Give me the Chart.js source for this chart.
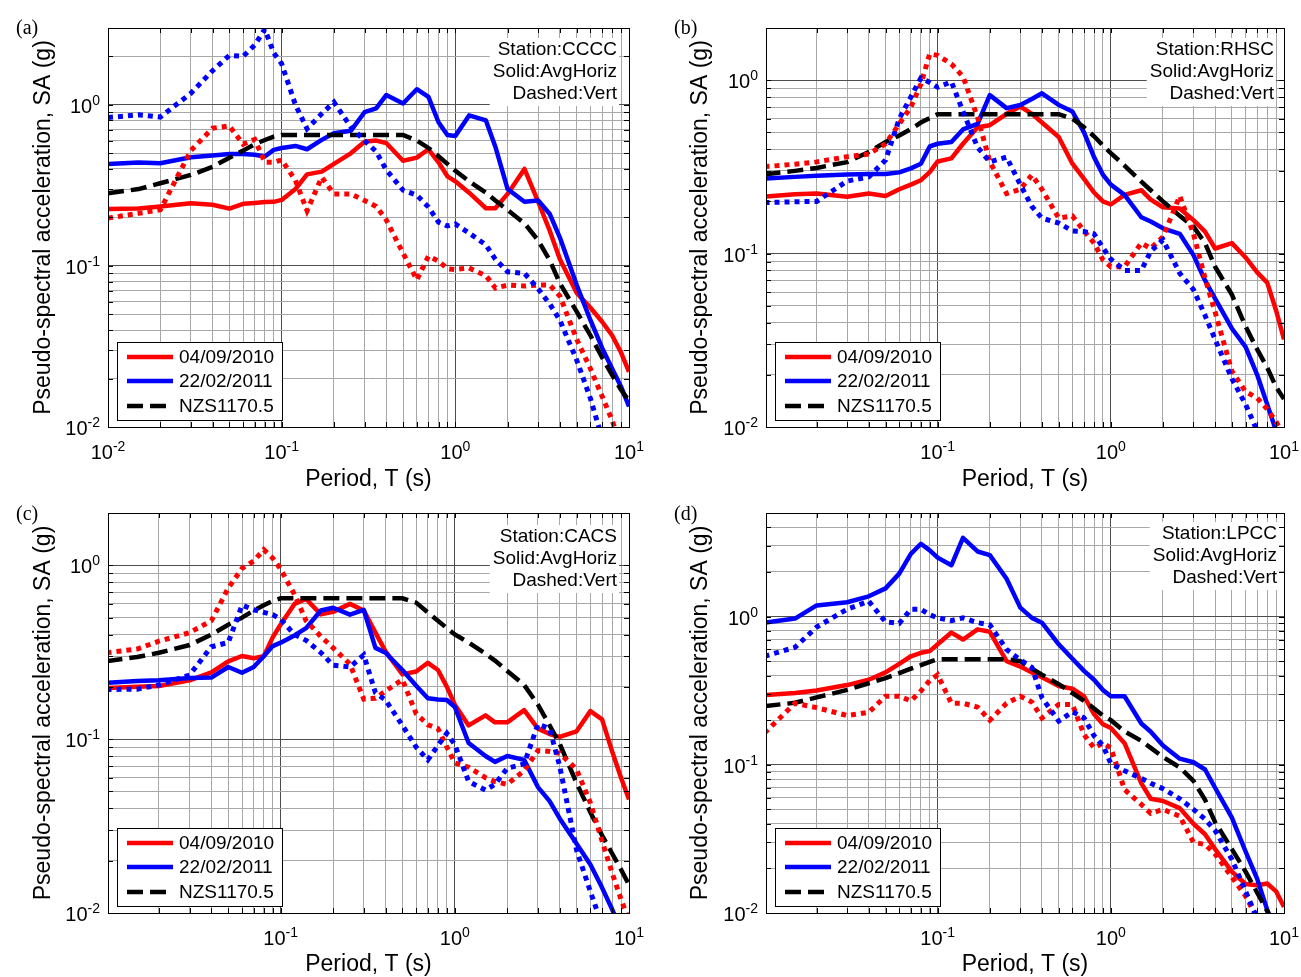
<!DOCTYPE html>
<html>
<head>
<meta charset="utf-8">
<title>Pseudo-spectral acceleration</title>
<script src="https://cdn.jsdelivr.net/npm/chart.js@4.4.1/dist/chart.umd.min.js"></script>
<style>
  body { margin: 0; background: #fff; width: 1301px; height: 977px; position: relative; overflow: hidden; }
  canvas { position: absolute; }
</style>
</head>
<body>
<canvas id="c0"></canvas>
<canvas id="c1"></canvas>
<canvas id="c2"></canvas>
<canvas id="c3"></canvas>
<script>
// periods (s) shared by every record
const periods = [0.01, 0.015, 0.02, 0.03, 0.04, 0.05, 0.06, 0.07, 0.08, 0.09,
                 0.1, 0.12, 0.14, 0.17, 0.2, 0.25, 0.3, 0.35, 0.4, 0.5,
                 0.6, 0.7, 0.8, 0.9, 1, 1.2, 1.5, 1.7, 2, 2.5,
                 3, 3.5, 4, 5, 6, 7, 8, 9, 10];

// (a) CCCC
const aRedH  = [0.226, 0.227, 0.234, 0.245, 0.24, 0.227, 0.243, 0.246, 0.249, 0.25, 0.257, 0.3, 0.37, 0.385, 0.43, 0.5, 0.59, 0.6, 0.58, 0.45, 0.47, 0.53, 0.44, 0.36, 0.335, 0.285, 0.228, 0.228, 0.28, 0.4, 0.25, 0.165, 0.11, 0.068, 0.055, 0.045, 0.037, 0.029, 0.022];
const aBlueH = [0.43, 0.438, 0.434, 0.473, 0.485, 0.496, 0.496, 0.49, 0.478, 0.525, 0.54, 0.556, 0.53, 0.606, 0.667, 0.69, 0.9, 0.95, 1.15, 1.02, 1.25, 1.12, 0.78, 0.65, 0.64, 0.86, 0.8, 0.55, 0.3, 0.25, 0.255, 0.21, 0.15, 0.076, 0.046, 0.031, 0.023, 0.0178, 0.0134];
const aRedV  = [0.198, 0.212, 0.223, 0.52, 0.716, 0.74, 0.57, 0.61, 0.44, 0.44, 0.455, 0.34, 0.22, 0.355, 0.28, 0.28, 0.255, 0.234, 0.193, 0.12, 0.082, 0.115, 0.107, 0.096, 0.095, 0.097, 0.087, 0.073, 0.076, 0.075, 0.076, 0.076, 0.065, 0.035, 0.023, 0.0155, 0.011, 0.0075, 0.0055];
const aBlueV = [0.834, 0.867, 0.84, 1.18, 1.63, 2.03, 2.0, 2.35, 2.95, 2.1, 1.8, 1.0, 0.71, 0.88, 1.04, 0.73, 0.6, 0.513, 0.395, 0.295, 0.275, 0.232, 0.187, 0.177, 0.182, 0.16, 0.135, 0.11, 0.092, 0.09, 0.072, 0.058, 0.046, 0.026, 0.015, 0.0085, 0.006, 0.0045, 0.0035];
const aCode  = [0.283, 0.3, 0.326, 0.367, 0.412, 0.47, 0.52, 0.57, 0.605, 0.635, 0.651, 0.651, 0.651, 0.651, 0.651, 0.651, 0.651, 0.651, 0.651, 0.651, 0.6, 0.54, 0.48, 0.43, 0.39, 0.335, 0.285, 0.255, 0.222, 0.184, 0.144, 0.108, 0.078, 0.052, 0.037, 0.027, 0.021, 0.017, 0.0145];

// (b) RHSC
const bRedH  = [0.213, 0.22, 0.222, 0.213, 0.222, 0.215, 0.235, 0.25, 0.265, 0.295, 0.34, 0.354, 0.43, 0.535, 0.55, 0.64, 0.705, 0.64, 0.57, 0.47, 0.33, 0.27, 0.225, 0.2, 0.192, 0.218, 0.232, 0.205, 0.185, 0.182, 0.156, 0.134, 0.107, 0.115, 0.095, 0.078, 0.068, 0.047, 0.032];
const bBlueH = [0.271, 0.277, 0.281, 0.286, 0.288, 0.288, 0.294, 0.31, 0.33, 0.415, 0.43, 0.44, 0.52, 0.56, 0.82, 0.69, 0.72, 0.78, 0.84, 0.72, 0.66, 0.5, 0.36, 0.285, 0.25, 0.218, 0.162, 0.153, 0.14, 0.13, 0.098, 0.07, 0.055, 0.037, 0.029, 0.02, 0.0135, 0.0095, 0.007];
const bRedV  = [0.317, 0.328, 0.338, 0.362, 0.375, 0.43, 0.56, 0.7, 0.95, 1.42, 1.39, 1.24, 1.05, 0.61, 0.34, 0.222, 0.235, 0.284, 0.235, 0.16, 0.165, 0.135, 0.115, 0.092, 0.084, 0.084, 0.115, 0.107, 0.125, 0.215, 0.13, 0.072, 0.046, 0.021, 0.016, 0.0147, 0.0127, 0.0107, 0.009];
const bBlueV = [0.197, 0.199, 0.2, 0.262, 0.277, 0.346, 0.6, 0.8, 1.03, 0.97, 0.91, 0.98, 0.66, 0.41, 0.338, 0.36, 0.25, 0.187, 0.16, 0.15, 0.135, 0.134, 0.13, 0.108, 0.093, 0.08, 0.08, 0.103, 0.12, 0.077, 0.062, 0.044, 0.032, 0.019, 0.0135, 0.0095, 0.007, 0.0055, 0.0045];
const bCode  = [0.286, 0.3, 0.312, 0.337, 0.385, 0.44, 0.48, 0.522, 0.57, 0.605, 0.637, 0.637, 0.637, 0.637, 0.637, 0.637, 0.637, 0.637, 0.637, 0.637, 0.6, 0.535, 0.475, 0.42, 0.38, 0.322, 0.26, 0.232, 0.2, 0.165, 0.143, 0.115, 0.084, 0.058, 0.038, 0.028, 0.022, 0.017, 0.0145];

// (c) CACS
const cRedH  = [0.197, 0.2, 0.202, 0.218, 0.242, 0.28, 0.301, 0.292, 0.3, 0.385, 0.457, 0.6, 0.64, 0.522, 0.54, 0.6, 0.55, 0.41, 0.32, 0.236, 0.245, 0.275, 0.25, 0.2, 0.158, 0.12, 0.137, 0.125, 0.125, 0.147, 0.115, 0.107, 0.103, 0.111, 0.145, 0.13, 0.085, 0.06, 0.045];
const cBlueH = [0.211, 0.216, 0.218, 0.225, 0.226, 0.26, 0.241, 0.26, 0.3, 0.343, 0.359, 0.395, 0.435, 0.55, 0.57, 0.52, 0.555, 0.335, 0.314, 0.25, 0.203, 0.172, 0.169, 0.168, 0.153, 0.095, 0.08, 0.074, 0.08, 0.076, 0.053, 0.044, 0.035, 0.025, 0.019, 0.014, 0.0105, 0.008, 0.006];
const cRedV  = [0.314, 0.33, 0.366, 0.41, 0.48, 0.74, 0.96, 1.06, 1.23, 1.1, 0.95, 0.68, 0.48, 0.39, 0.335, 0.27, 0.17, 0.172, 0.189, 0.22, 0.14, 0.121, 0.115, 0.09, 0.073, 0.069, 0.06, 0.057, 0.055, 0.066, 0.086, 0.085, 0.083, 0.067, 0.043, 0.026, 0.017, 0.012, 0.009];
const cBlueV = [0.193, 0.194, 0.205, 0.234, 0.34, 0.36, 0.59, 0.555, 0.536, 0.52, 0.489, 0.4, 0.37, 0.315, 0.266, 0.26, 0.305, 0.185, 0.168, 0.12, 0.09, 0.076, 0.092, 0.108, 0.093, 0.057, 0.051, 0.055, 0.068, 0.072, 0.122, 0.115, 0.07, 0.023, 0.0133, 0.0085, 0.006, 0.0045, 0.0035];
const cCode  = [0.281, 0.297, 0.314, 0.348, 0.4, 0.455, 0.5, 0.55, 0.59, 0.625, 0.646, 0.646, 0.646, 0.646, 0.646, 0.646, 0.646, 0.646, 0.646, 0.646, 0.61, 0.535, 0.48, 0.435, 0.4, 0.36, 0.31, 0.283, 0.247, 0.205, 0.158, 0.12, 0.094, 0.056, 0.038, 0.028, 0.022, 0.0178, 0.0145];

// (d) LPCC
const dRedH  = [0.295, 0.305, 0.317, 0.345, 0.375, 0.42, 0.48, 0.54, 0.57, 0.585, 0.65, 0.78, 0.7, 0.82, 0.79, 0.5, 0.46, 0.42, 0.39, 0.34, 0.326, 0.29, 0.22, 0.188, 0.177, 0.14, 0.075, 0.059, 0.057, 0.051, 0.04, 0.034, 0.027, 0.019, 0.0157, 0.0154, 0.0158, 0.014, 0.011];
const dBlueH = [0.91, 0.97, 1.19, 1.25, 1.37, 1.55, 1.95, 2.65, 3.1, 2.8, 2.5, 2.22, 3.4, 2.75, 2.6, 1.8, 1.15, 0.98, 0.91, 0.65, 0.52, 0.43, 0.375, 0.32, 0.29, 0.29, 0.19, 0.167, 0.135, 0.11, 0.104, 0.093, 0.07, 0.044, 0.026, 0.017, 0.0105, 0.0075, 0.0055];
const dRedV  = [0.164, 0.26, 0.243, 0.215, 0.226, 0.29, 0.29, 0.27, 0.315, 0.37, 0.405, 0.26, 0.26, 0.245, 0.2, 0.26, 0.29, 0.265, 0.207, 0.255, 0.255, 0.16, 0.13, 0.14, 0.13, 0.068, 0.054, 0.047, 0.05, 0.045, 0.03, 0.029, 0.025, 0.0175, 0.013, 0.0092, 0.007, 0.0055, 0.0045];
const dBlueV = [0.54, 0.62, 0.85, 1.12, 1.27, 0.92, 0.9, 1.12, 1.12, 1.03, 0.98, 0.94, 0.98, 0.91, 0.88, 0.6, 0.51, 0.455, 0.284, 0.197, 0.228, 0.207, 0.157, 0.135, 0.102, 0.091, 0.081, 0.075, 0.069, 0.059, 0.05, 0.043, 0.036, 0.023, 0.014, 0.0092, 0.0065, 0.005, 0.004];
const dCode  = [0.249, 0.262, 0.285, 0.32, 0.355, 0.385, 0.415, 0.445, 0.47, 0.495, 0.516, 0.516, 0.516, 0.516, 0.516, 0.516, 0.5, 0.445, 0.405, 0.35, 0.305, 0.27, 0.24, 0.215, 0.2, 0.168, 0.145, 0.13, 0.113, 0.096, 0.078, 0.058, 0.041, 0.027, 0.019, 0.0137, 0.0103, 0.008, 0.0063];

// labels and axis ranges
const panelTags = ['(a)', '(b)', '(c)', '(d)'];
const stations = ['Station:CCCC', 'Station:RHSC', 'Station:CACS', 'Station:LPCC'];
const noteLines = ['Solid:AvgHoriz', 'Dashed:Vert'];
const legendLabels = ['04/09/2010', '22/02/2011', 'NZS1170.5'];
const xTitle = 'Period, T (s)';
const yTitle = 'Pseudo-spectral acceleration, SA (g)';
const xMins = [0.01, 0.0102, 0.0102, 0.0102];
const yMaxes = [3, 2, 2, 5];
const majorValues = [0.01, 0.1, 1, 10];
const majorBase = '10';
const majorExponents = ['-2', '-1', '0', '1'];

const records = [
    [aRedH, aBlueH, aRedV, aBlueV, aCode],
    [bRedH, bBlueH, bRedV, bBlueV, bCode],
    [cRedH, cBlueH, cRedV, cBlueV, cCode],
    [dRedH, dBlueH, dRedV, dBlueV, dCode]
];

// where each panel sits on the page
const layouts = [
    { left: 0,   top: 0,   width: 650, height: 493, padLeft: 26, padRight: 21, yWidth: 82, xHeight: 66, noteTop: 22, noteRight: 12, tagX: 16, tagY: 29 },
    { left: 650, top: 0,   width: 651, height: 493, padLeft: 33, padRight: 17, yWidth: 83, xHeight: 66, noteTop: 22, noteRight: 10, tagX: 24, tagY: 29 },
    { left: 0,   top: 485, width: 650, height: 493, padLeft: 26, padRight: 21, yWidth: 82, xHeight: 65, noteTop: 24, noteRight: 12, tagX: 16, tagY: 30 },
    { left: 650, top: 485, width: 651, height: 493, padLeft: 33, padRight: 17, yWidth: 83, xHeight: 65, noteTop: 21, noteRight: 7,  tagX: 24, tagY: 30 }
];

const SANS = "Arial, 'Liberation Sans', Helvetica, sans-serif";
const SERIF = "'Times New Roman', 'Liberation Serif', serif";
const RED = '#ff0000';
const BLUE = '#0000ff';
const MAJOR_GRID = '#4d4d4d';
const MINOR_GRID = '#a8a8a8';

function isMajor(v) {
    const e = Math.log10(v);
    return Math.abs(e - Math.round(e)) < 1e-6;
}

function exponentFor(v) {
    for (let i = 0; i < majorValues.length; i++) {
        if (Math.abs(Math.log10(v) - Math.log10(majorValues[i])) < 1e-6) return majorExponents[i];
    }
    return null;
}

// 1..9 x 10^n ticks inside the range
function decadeTicks(scale) {
    const out = [];
    for (let e = -2; e <= 1; e++) {
        for (let m = 1; m <= 9; m++) {
            const v = +(m * Math.pow(10, e)).toPrecision(3);
            if (v >= scale.min * 0.999 && v <= scale.max * 1.001) out.push({ value: v, major: m === 1 });
        }
    }
    scale.ticks = out;
}

function points(vals) {
    return periods.map((t, i) => ({ x: t, y: vals[i] }));
}

function makeDatasets(set) {
    const [redH, blueH, redV, blueV, code] = set;
    const base = { pointRadius: 0, tension: 0, fill: false, clip: 0 };
    return [
        { ...base, label: legendLabels[0], data: points(redH), borderColor: RED, borderWidth: 4.5, borderJoinStyle: 'round', order: 4 },
        { ...base, label: legendLabels[1], data: points(blueH), borderColor: BLUE, borderWidth: 4.5, borderJoinStyle: 'round', order: 3 },
        { ...base, label: legendLabels[2], data: points(code), borderColor: '#000', borderWidth: 4.5, borderDash: [16, 7], order: 2 },
        { ...base, label: 'Vert ' + legendLabels[0], data: points(redV), borderColor: RED, borderWidth: 5, borderDash: [5, 5], order: 1 },
        { ...base, label: 'Vert ' + legendLabels[1], data: points(blueV), borderColor: BLUE, borderWidth: 5, borderDash: [5, 5], order: 0 }
    ];
}

// "10" with a raised exponent, like the MATLAB tick labels
function drawPower(ctx, exp, x, yb, align) {
    ctx.font = '20px ' + SANS;
    const wb = ctx.measureText(majorBase).width;
    ctx.font = '14px ' + SANS;
    const ws = ctx.measureText(exp).width;
    const x0 = align === 'center' ? x - (wb + ws) / 2 : x - (wb + ws);
    ctx.textAlign = 'left';
    ctx.textBaseline = 'alphabetic';
    ctx.fillStyle = '#000';
    ctx.font = '20px ' + SANS;
    ctx.fillText(majorBase, x0, yb);
    ctx.font = '14px ' + SANS;
    ctx.fillText(exp, x0 + wb, yb - 8);
}

// axes box, inward ticks, tick labels, station note, legend box and panel tag
const decorPlugin = {
    id: 'decor',
    afterDraw(chart, args, opts) {
        const { ctx, chartArea: a } = chart;
        const xs = chart.scales.x, ys = chart.scales.y;
        const lay = opts.layout;
        ctx.save();

        // inward tick marks and frame
        ctx.strokeStyle = '#000';
        ctx.lineWidth = 1;
        ctx.beginPath();
        xs.ticks.forEach(t => {
            const px = Math.round(xs.getPixelForValue(t.value)) + 0.5;
            ctx.moveTo(px, a.bottom); ctx.lineTo(px, a.bottom - 5);
            ctx.moveTo(px, a.top); ctx.lineTo(px, a.top + 5);
        });
        ys.ticks.forEach(t => {
            const py = Math.round(ys.getPixelForValue(t.value)) + 0.5;
            ctx.moveTo(a.left, py); ctx.lineTo(a.left + 5, py);
            ctx.moveTo(a.right, py); ctx.lineTo(a.right - 5, py);
        });
        ctx.stroke();
        ctx.strokeRect(Math.round(a.left) + 0.5, Math.round(a.top) + 0.5, Math.round(a.right - a.left), Math.round(a.bottom - a.top));

        // tick labels at the decades
        xs.ticks.forEach(t => {
            const e = exponentFor(t.value);
            if (e !== null) drawPower(ctx, e, xs.getPixelForValue(t.value), a.bottom + 32, 'center');
        });
        ys.ticks.forEach(t => {
            const e = exponentFor(t.value);
            if (e !== null) drawPower(ctx, e, a.left - 8, ys.getPixelForValue(t.value) + 8, 'right');
        });

        // station note
        ctx.font = '19px ' + SANS;
        const lines = [opts.station].concat(noteLines);
        const widest = Math.max(...lines.map(s => ctx.measureText(s).width));
        const rx = a.right - lay.noteRight;
        const ty = a.top + lay.noteTop;
        ctx.fillStyle = '#fff';
        ctx.fillRect(rx - widest - 3, ty - 12, widest + 5, 22 * 2 + 24);
        ctx.fillStyle = '#000';
        ctx.textAlign = 'right';
        ctx.textBaseline = 'middle';
        lines.forEach((s, i) => ctx.fillText(s, rx, ty + i * 22));

        // legend box
        const lx = Math.round(a.left) + 9;
        const ly = Math.round(a.bottom) - 85;
        ctx.fillStyle = '#fff';
        ctx.fillRect(lx, ly, 165, 78);
        ctx.strokeStyle = '#000';
        ctx.lineWidth = 1;
        ctx.strokeRect(lx + 0.5, ly + 0.5, 165, 78);
        const rows = [15, 39, 64];
        chart.data.datasets.slice(0, 3).forEach((ds, i) => {
            const yy = ly + rows[i];
            ctx.beginPath();
            ctx.setLineDash(ds.borderDash || []);
            ctx.strokeStyle = ds.borderColor;
            ctx.lineWidth = 4.5;
            ctx.moveTo(lx + 10, yy);
            ctx.lineTo(lx + 56, yy);
            ctx.stroke();
            ctx.setLineDash([]);
            ctx.fillStyle = '#000';
            ctx.textAlign = 'left';
            ctx.textBaseline = 'middle';
            ctx.font = '19px ' + SANS;
            ctx.fillText(legendLabels[i], lx + 62, yy + 1);
        });

        // panel tag
        ctx.font = '20px ' + SERIF;
        ctx.textAlign = 'left';
        ctx.textBaseline = 'middle';
        ctx.fillText(opts.tag, lay.tagX, lay.tagY);
        ctx.restore();
    }
};

records.forEach((set, p) => {
    const lay = layouts[p];
    const canvas = document.getElementById('c' + p);
    canvas.width = lay.width;
    canvas.height = lay.height;
    canvas.style.left = lay.left + 'px';
    canvas.style.top = lay.top + 'px';

    const gridColor = c => (c.tick && isMajor(c.tick.value)) ? MAJOR_GRID : MINOR_GRID;

    new Chart(canvas.getContext('2d'), {
        type: 'line',
        data: { datasets: makeDatasets(set) },
        plugins: [decorPlugin],
        options: {
            responsive: false,
            animation: false,
            devicePixelRatio: 1,
            layout: { padding: { left: lay.padLeft, right: lay.padRight, top: 28, bottom: 0 } },
            plugins: {
                legend: { display: false },
                tooltip: { enabled: false },
                decor: { layout: lay, station: stations[p], tag: panelTags[p] }
            },
            scales: {
                x: {
                    type: 'logarithmic',
                    min: xMins[p],
                    max: 10,
                    afterBuildTicks: decadeTicks,
                    afterFit: s => { s.height = lay.xHeight; },
                    grid: { color: gridColor, lineWidth: 1, drawTicks: false },
                    border: { display: false },
                    ticks: { display: false, autoSkip: false, maxRotation: 0, minRotation: 0 },
                    title: {
                        display: true, text: xTitle, color: '#000',
                        font: { family: SANS, size: 23 }, padding: { top: 0, bottom: 0 }
                    }
                },
                y: {
                    type: 'logarithmic',
                    min: 0.01,
                    max: yMaxes[p],
                    afterBuildTicks: decadeTicks,
                    afterFit: s => { s.width = lay.yWidth; },
                    grid: { color: gridColor, lineWidth: 1, drawTicks: false },
                    border: { display: false },
                    ticks: { display: false, autoSkip: false },
                    title: {
                        display: true, text: yTitle, color: '#000',
                        font: { family: SANS, size: 23 }, padding: { top: 4, bottom: 0 }
                    }
                }
            }
        }
    });
});
</script>
</body>
</html>
